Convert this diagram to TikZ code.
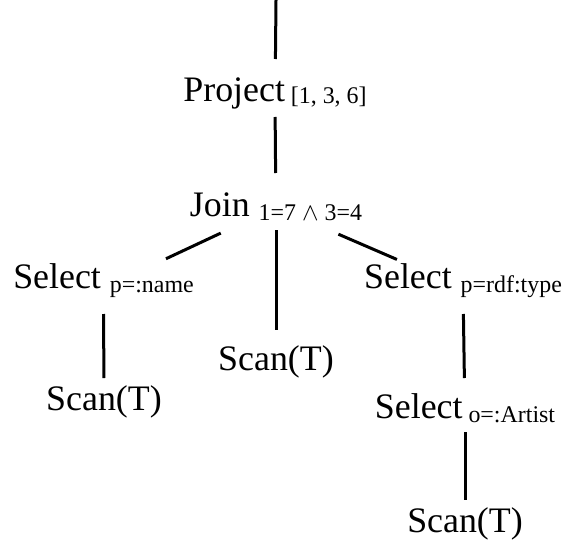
\documentclass[tikz,border=0pt]{standalone}
\usepackage{fontspec}
\setmainfont{Liberation Serif}
\usetikzlibrary{positioning}
\tikzset{op/.style={inner sep=0pt, anchor=base, font=\fontsize{36}{40}\selectfont}}
\tikzset{edge/.style={line width=3bp}}
\newcommand{\cond}[2][-4bp]{\raisebox{#1}{\fontsize{24}{26}\selectfont #2}}

\begin{document}
\begin{tikzpicture}[x=1bp,y=-1bp]
\useasboundingbox (0,0) rectangle (566,550);
\coordinate (top) at (276,0);
\node[op] (proj) at (275,102) {Project\,\cond[-2bp]{[1, 3, 6]}};
\node[op] (join) at (276,217) {Join \cond{1=7 $\wedge$ 3=4}};
\node[op] (selL) at (103.5,288) {Select \cond{p=:name}};
\node[op] (scanM) at (276,370) {Scan(T)};
\node[op] (selR) at (463,288) {Select \cond{p=rdf:type}};
\node[op] (scanL) at (104,410) {Scan(T)};
\node[op] (selO) at (465,418) {Select\,\cond{o=:Artist}};
\node[op] (scanR) at (465,532) {Scan(T)};
% vertical edges
\draw[edge, shorten >=43bp] (top) -- (proj.base);
\draw[edge, shorten <=15bp, shorten >=44bp] (proj.base) -- (join.base);
\draw[edge, shorten <=13bp, shorten >=40bp] (join.base) -- (scanM.base);
\draw[edge, shorten <=26bp, shorten >=32bp] (selL.base) -- (scanL.base);
\draw[edge, shorten <=26bp, shorten >=40bp] (selR.base) -- (selO.base);
\draw[edge, shorten <=14bp, shorten >=32bp] (selO.base) -- (scanR.base);
% slanted edges
\draw[edge, shorten <=61bp, shorten >=69bp] (join.center) -- (selL.base);
\draw[edge, shorten <=68bp, shorten >=72bp] (join.center) -- (selR.base);
\end{tikzpicture}
\end{document}
